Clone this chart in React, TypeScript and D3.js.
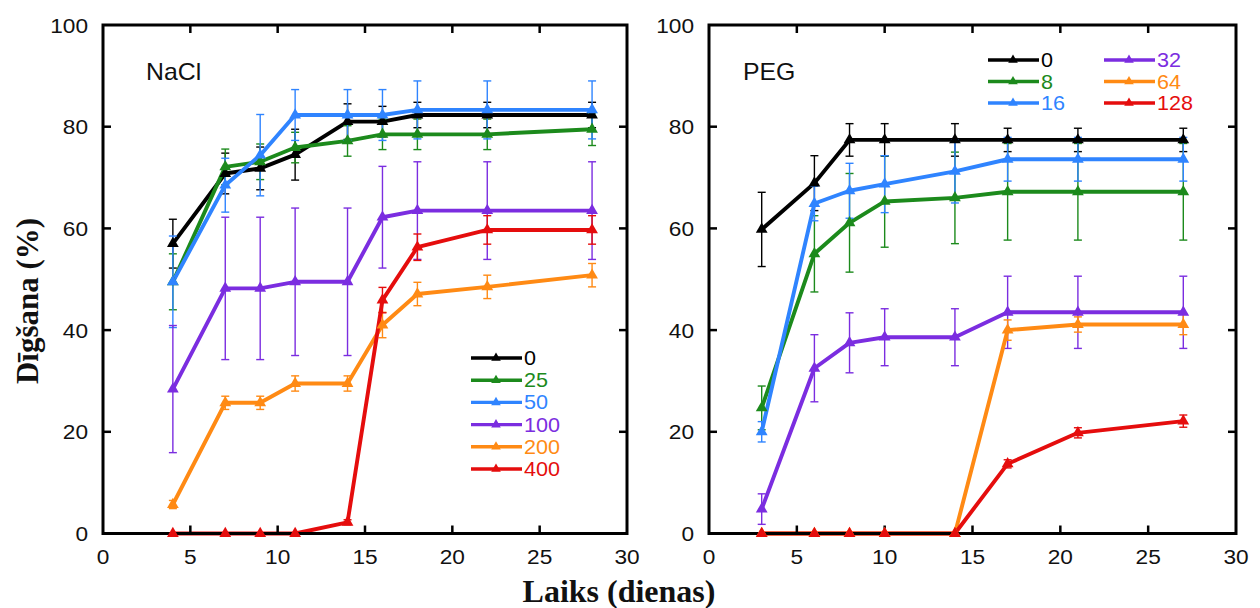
import React from 'react';
import * as d3 from 'd3';

// ---- Data: germination (%) over time (days) ----
const naclDays = [4, 7, 9, 11, 14, 16, 18, 22, 28];
const naclLabels = ['0', '25', '50', '100', '200', '400'];
const nacl0 = [57, 70.8, 71.8, 74.5, 81, 81, 82.3, 82.3, 82.3];
const nacl0Err = [4.8, 4, 4.2, 5, 3.5, 3, 2.5, 2.5, 2.5];
const nacl25 = [49.5, 72.1, 73.1, 75.9, 77.2, 78.5, 78.5, 78.5, 79.5];
const nacl25Err = [5.5, 3.5, 3.5, 3, 3, 3, 3, 3, 3.2];
const nacl50 = [49.5, 68.5, 74.4, 82.3, 82.3, 82.3, 83.3, 83.3, 83.3];
const nacl50Err = [9, 5.3, 8, 5, 5, 5, 5.7, 5.7, 5.7];
const nacl100 = [28.4, 48.2, 48.2, 49.5, 49.5, 62.2, 63.5, 63.5, 63.5];
const nacl100Err = [12.5, 14, 14, 14.5, 14.5, 10, 9.6, 9.6, 9.6];
const nacl200 = [5.7, 25.7, 25.7, 29.5, 29.5, 41, 47.1, 48.5, 50.8];
const nacl200Err = [0.8, 1.3, 1.3, 1.5, 1.5, 2.5, 2.3, 2.3, 2.3];
const nacl400 = [0, 0, 0, 0, 2.2, 45.9, 56.3, 59.7, 59.7];
const nacl400Err = [0, 0, 0, 0, 0.5, 2.5, 2.6, 2.8, 2.8];

const pegDays = [3, 6, 8, 10, 14, 17, 21, 27];
const pegLabels = ['0', '8', '16', '32', '64', '128'];
const peg0 = [59.8, 68.9, 77.4, 77.4, 77.4, 77.4, 77.4, 77.4];
const peg0Err = [7.3, 5.4, 3.2, 3.2, 3.2, 2.3, 2.3, 2.3];
const peg8 = [24.7, 55, 61.1, 65.3, 66, 67.2, 67.2, 67.2];
const peg8Err = [4.3, 7.5, 9.7, 9, 9, 9.5, 9.5, 9.5];
const peg16 = [20, 64.9, 67.4, 68.7, 71.2, 73.6, 73.6, 73.6];
const peg16Err = [2, 3.4, 5.4, 5.6, 6.2, 4.3, 4.3, 4.3];
const peg32 = [4.8, 32.5, 37.5, 38.6, 38.6, 43.5, 43.5, 43.5];
const peg32Err = [3, 6.6, 5.9, 5.6, 5.6, 7.1, 7.1, 7.1];
const peg64 = [0, 0, 0, 0, 0, 40, 41.1, 41.1];
const peg64Err = [0, 0, 0, 0, 0, 2, 1.5, 2];
const peg128 = [0, 0, 0, 0, 0, 13.7, 19.8, 22.1];
const peg128Err = [0, 0, 0, 0, 0, 0.8, 1, 1.2];

const xTicks = [0, 5, 10, 15, 20, 25, 30];
const yTicks = [0, 20, 40, 60, 80, 100];
const xAxisTitle = 'Laiks (dienas)';
const yAxisTitle = 'Dīgšana (%)';

const COLORS = ['#000000', '#1c8a1c', '#2f84ff', '#7b2de0', '#ff8a14', '#e50d0d'];

type Series = { label: string; color: string; values: number[]; errors: number[] };

const naclSeries: Series[] = [nacl0, nacl25, nacl50, nacl100, nacl200, nacl400].map((v, i) => ({
  label: naclLabels[i],
  color: COLORS[i],
  values: v,
  errors: [nacl0Err, nacl25Err, nacl50Err, nacl100Err, nacl200Err, nacl400Err][i],
}));
const pegSeries: Series[] = [peg0, peg8, peg16, peg32, peg64, peg128].map((v, i) => ({
  label: pegLabels[i],
  color: COLORS[i],
  values: v,
  errors: [peg0Err, peg8Err, peg16Err, peg32Err, peg64Err, peg128Err][i],
}));

const SANS = '"Liberation Sans", Arial, Helvetica, sans-serif';
const SERIF = '"Liberation Serif", "Times New Roman", serif';
const STRETCH = 1.08;

const STop = 25;
const SBottom = 533.5;

type PanelProps = {
  title: string;
  titleX: number;
  days: number[];
  series: Series[];
  left: number;
  right: number;
  legendX: number;
  legendY: number;
  legendRow: number;
  legendCols: number;
  legendColGap: number;
};

const SText: React.FC<{ x: number; y: number; anchor?: string; size: number; fill?: string; children: React.ReactNode }> = ({ x, y, anchor = 'start', size, fill = '#111', children }) => (
  <text
    transform={`translate(${x},${y}) scale(${STRETCH},1)`}
    textAnchor={anchor}
    fontFamily={SANS}
    fontSize={size}
    fill={fill}
  >
    {children}
  </text>
);

const Panel: React.FC<PanelProps> = (p) => {
  const x = d3.scaleLinear().domain([0, 30]).range([p.left, p.right]);
  const y = d3.scaleLinear().domain([0, 100]).range([SBottom, STop]);
  const line = d3
    .line<number>()
    .x((_, i) => x(p.days[i]))
    .y((v) => y(v));
  const tri = d3.symbol().type(d3.symbolTriangle).size(60)()!;
  const triSmall = d3.symbol().type(d3.symbolTriangle).size(40)()!;
  const cap = 4;
  const tick = 8;

  return (
    <g>
      {/* lines and error bars */}
      {p.series.map((s) => (
        <g key={'l' + s.label}>
          {s.values.map((v, i) =>
            s.errors[i] > 0 ? (
              <g key={i} stroke={s.color} strokeWidth={1.4}>
                <line x1={x(p.days[i])} x2={x(p.days[i])} y1={y(v - s.errors[i])} y2={y(v + s.errors[i])} />
                <line x1={x(p.days[i]) - cap} x2={x(p.days[i]) + cap} y1={y(v - s.errors[i])} y2={y(v - s.errors[i])} />
                <line x1={x(p.days[i]) - cap} x2={x(p.days[i]) + cap} y1={y(v + s.errors[i])} y2={y(v + s.errors[i])} />
              </g>
            ) : null
          )}
          <path d={line(s.values) ?? ''} fill="none" stroke={s.color} strokeWidth={3.9} strokeLinejoin="round" />
        </g>
      ))}

      {/* frame and ticks */}
      <rect x={p.left} y={STop} width={p.right - p.left} height={SBottom - STop} fill="none" stroke="#000" strokeWidth={3} />
      {xTicks.slice(1, -1).map((t) => (
        <g key={'xt' + t} stroke="#000" strokeWidth={2.5}>
          <line x1={x(t)} x2={x(t)} y1={SBottom} y2={SBottom - tick} />
          <line x1={x(t)} x2={x(t)} y1={STop} y2={STop + tick} />
        </g>
      ))}
      {yTicks.slice(1, -1).map((t) => (
        <g key={'yt' + t} stroke="#000" strokeWidth={2.5}>
          <line x1={p.left} x2={p.left + tick} y1={y(t)} y2={y(t)} />
          <line x1={p.right} x2={p.right - tick} y1={y(t)} y2={y(t)} />
        </g>
      ))}
      {xTicks.map((t) => (
        <SText key={'xl' + t} x={x(t)} y={564} anchor="middle" size={21}>
          {t}
        </SText>
      ))}
      {yTicks.map((t) => (
        <SText key={'yl' + t} x={p.left - 15} y={y(t) + 7.5} anchor="end" size={21}>
          {t}
        </SText>
      ))}

      {/* markers */}
      {p.series.map((s) => (
        <g key={'m' + s.label} fill={s.color}>
          {s.values.map((v, i) => (
            <path key={i} d={tri} transform={`translate(${x(p.days[i])},${y(v)})`} />
          ))}
        </g>
      ))}

      <SText x={p.titleX} y={80} size={23}>
        {p.title}
      </SText>

      {/* legend */}
      {p.series.map((s, i) => {
        const perCol = p.series.length / p.legendCols;
        const col = Math.floor(i / perCol);
        const row = i % perCol;
        const lx = p.legendX + col * p.legendColGap;
        const ly = p.legendY + row * p.legendRow;
        return (
          <g key={'lg' + s.label}>
            <line x1={lx} x2={lx + 51} y1={ly} y2={ly} stroke={s.color} strokeWidth={3.4} />
            <path d={triSmall} transform={`translate(${lx + 25},${ly})`} fill={s.color} />
            <SText x={lx + 53} y={ly + 7} size={20} fill={s.color}>
              {s.label}
            </SText>
          </g>
        );
      })}
    </g>
  );
};

export default function App() {
  return (
    <svg
      width={1260}
      height={608}
      viewBox="0 0 1260 608"
      style={{ position: 'absolute', left: 0, top: 0, background: '#fff' }}
    >
      <rect width={1260} height={608} fill="#fff" />
      <Panel
        title="NaCl"
        titleX={146}
        days={naclDays}
        series={naclSeries}
        left={103}
        right={627}
        legendX={471}
        legendY={358}
        legendRow={22.2}
        legendCols={1}
        legendColGap={0}
      />
      <Panel
        title="PEG"
        titleX={743}
        days={pegDays}
        series={pegSeries}
        left={709}
        right={1236}
        legendX={988}
        legendY={60}
        legendRow={21.5}
        legendCols={2}
        legendColGap={116}
      />
      <text x={619} y={602} textAnchor="middle" fontFamily={SERIF} fontWeight="bold" fontSize={32} fill="#111">
        {xAxisTitle}
      </text>
      <text
        transform="translate(38,301) rotate(-90)"
        textAnchor="middle"
        fontFamily={SERIF}
        fontWeight="bold"
        fontSize={31}
        fill="#111"
      >
        {yAxisTitle}
      </text>
    </svg>
  );
}
